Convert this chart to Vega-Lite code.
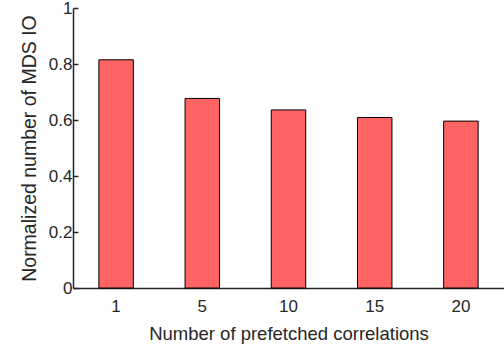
{
  "$schema": "https://vega.github.io/schema/vega-lite/v6.json",
  "width": 431,
  "height": 280,
  "autosize": "none",
  "padding": {"left": 73, "top": 8, "right": 0, "bottom": 62},
  "background": "white",
  "data": {"values": [
    {"n": "1", "v": 0.815},
    {"n": "5", "v": 0.677},
    {"n": "10", "v": 0.636},
    {"n": "15", "v": 0.609},
    {"n": "20", "v": 0.596}
  ]},
  "config": {
    "view": {"stroke": null},
    "font": "Liberation Sans",
    "axis": {"grid": false, "domainColor": "#262626", "domainWidth": 1.5, "tickColor": "#262626", "labelColor": "#262626", "titleColor": "#262626", "labelFont": "Liberation Sans", "titleFont": "Liberation Sans", "titleFontWeight": "normal"}
  },
  "mark": {"type": "bar", "fill": "#FF6464", "stroke": "#000000", "strokeWidth": 1},
  "encoding": {
    "x": {"field": "n", "type": "ordinal", "sort": null,
      "scale": {"paddingInner": 0.6, "paddingOuter": 0.3},
      "axis": {"title": "Number of prefetched correlations", "labelAngle": 0, "ticks": false, "labelPadding": 10, "labelFontSize": 17, "titleFontSize": 18.5, "titlePadding": 10}},
    "y": {"field": "v", "type": "quantitative",
      "scale": {"domain": [0, 1], "nice": false},
      "axis": {"title": "Normalized number of MDS IO", "values": [0, 0.2, 0.4, 0.6, 0.8, 1], "format": "~g", "tickSize": -5, "tickWidth": 1.5, "labelPadding": 6, "labelFontSize": 17, "titleFontSize": 19.5, "titlePadding": 9}}
  }
}
